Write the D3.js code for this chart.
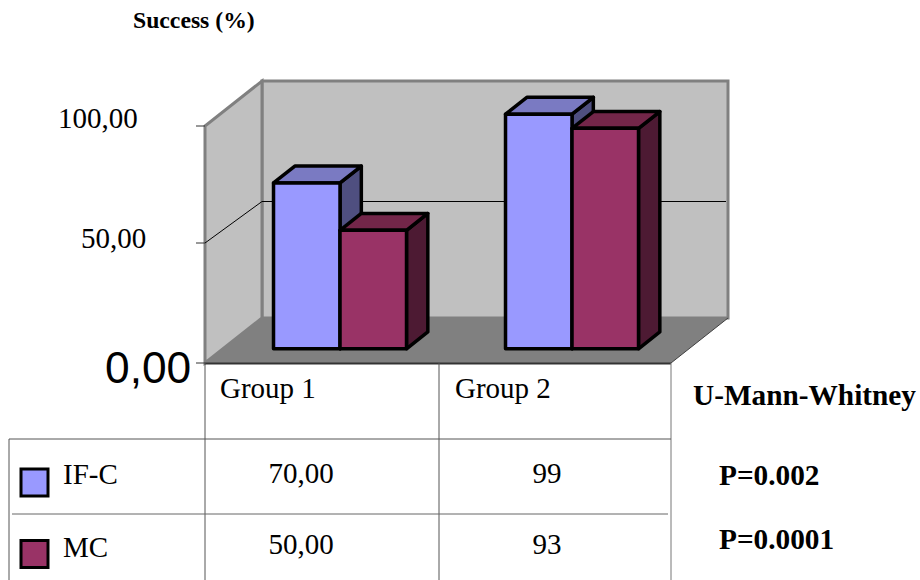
<!DOCTYPE html>
<html>
<head>
<meta charset="utf-8">
<script src="https://cdn.jsdelivr.net/npm/d3@7"></script>
<style>
  html, body { margin: 0; padding: 0; background: #fff; }
  svg { display: block; }
  text { font-family: "Liberation Serif", serif; fill: #000; }
</style>
</head>
<body>
<svg id="chart" width="920" height="580"></svg>
<script>
// Chart values
const groups = ["Group 1", "Group 2"];
const seriesNames = ["IF-C", "MC"];
const ifcValues = [70, 99];
const mcValues = [50, 93];
const ifcCells = ["70,00", "99"];
const mcCells = ["50,00", "93"];
const axisTicks = [0, 50, 100];
const axisLabels = ["0,00", "50,00", "100,00"];
const testTitle = "U-Mann-Whitney";
const testResults = ["P=0.002", "P=0.0001"];

const frontColors = ["#9999ff", "#993366"];
const topColors = ["#7a7ac2", "#732649"];
const sideColors = ["#4f4f80", "#4d1a33"];

const svg = d3.select("#chart");

// Oblique projection: d runs from the front of the floor (0) to the back wall (1)
const x = d3.scaleBand().domain(groups).range([206, 670]);
const y = d3.scaleLinear().domain([0, 100]).range([363, 126]);
const depthX = 57, depthY = 45;
const project = (px, v, d) => [px + d * depthX, y(v) - d * depthY];
const line = d3.line();
const poly = pts => line(pts) + "Z";

const xLeft = 205, xRight = 671, vMax = y.domain()[1];

// Floor
svg.append("path")
  .attr("d", poly([project(xLeft, 0, 0), project(xRight, 0, 0), project(xRight, 0, 1), project(xLeft, 0, 1)]))
  .attr("fill", "#808080");

// Walls
const wallStyle = sel => sel.attr("fill", "#c0c0c0").attr("stroke", "#808080").attr("stroke-width", 3);
svg.append("path")
  .attr("d", poly([project(xLeft, 0, 1), project(xRight, 0, 1), project(xRight, vMax, 1), project(xLeft, vMax, 1)]))
  .call(wallStyle);
svg.append("path")
  .attr("d", poly([project(xLeft, 0, 0), project(xLeft, 0, 1), project(xLeft, vMax, 1), project(xLeft, vMax, 0)]))
  .call(wallStyle);

// Gridlines run across the side wall and the back wall, flatter than the wall
// edges by a small slack and snapped to a whole pixel row on the back wall.
const gridTicks = axisTicks.filter(t => t > 0 && t < vMax);
const gridSlack = 1.5;
svg.selectAll("path.grid").data(gridTicks).join("path")
  .attr("class", "grid")
  .attr("d", t => {
    const a = project(xLeft, t, 0), b = project(xLeft, t, 1), c = project(xRight, t, 1);
    return line([[a[0], a[1] - gridSlack], [b[0], b[1] + gridSlack + 0.5], [c[0] - 2, c[1] + gridSlack + 0.5]]);
  })
  .attr("fill", "none").attr("stroke", "#000").attr("stroke-width", 1);

// Floor edge on the right
svg.append("path")
  .attr("d", line([project(xRight, 0, 0), project(xRight, 0, 1)]))
  .attr("fill", "none").attr("stroke", "#404040").attr("stroke-width", 1);

// Axis ticks
svg.selectAll("line.tick").data(axisTicks).join("line")
  .attr("class", "tick")
  .attr("x1", xLeft - 9).attr("x2", xLeft)
  .attr("y1", d => d === 50 ? y(d) - gridSlack : y(d)).attr("y2", d => d === 50 ? y(d) - gridSlack : y(d))
  .attr("stroke", "#333").attr("stroke-width", 1);

// Bars: two side by side in the middle of each group
const barWidth = 66.5;
const barFront = 0.316, barBack = 0.69;
const barRows = groups.flatMap((g, i) => [
  { g, s: seriesNames[0], v: ifcValues[i], k: 0 },
  { g, s: seriesNames[1], v: mcValues[i], k: 1 }
]);
const barLeft = d => x(d.g) + x.bandwidth() / 2 + (d.k - 1) * barWidth;

const bars = svg.selectAll("g.bar").data(barRows).join("g").attr("class", "bar")
  .attr("stroke", "#000").attr("stroke-width", 3.5).attr("stroke-linejoin", "round");

bars.append("path") // side face
  .attr("d", d => {
    const r = barLeft(d) + barWidth;
    return poly([project(r, 0, barFront), project(r, 0, barBack), project(r, d.v, barBack), project(r, d.v, barFront)]);
  })
  .attr("fill", d => sideColors[d.k]);
bars.append("path") // top face
  .attr("d", d => {
    const l = barLeft(d), r = l + barWidth;
    return poly([project(l, d.v, barFront), project(r, d.v, barFront), project(r, d.v, barBack), project(l, d.v, barBack)]);
  })
  .attr("fill", d => topColors[d.k]);
bars.append("path") // front face
  .attr("d", d => {
    const l = barLeft(d), r = l + barWidth;
    return poly([project(l, 0, barFront), project(r, 0, barFront), project(r, d.v, barFront), project(l, d.v, barFront)]);
  })
  .attr("fill", d => frontColors[d.k]);

// Data table below the floor
const rowTop = 439, rowMid = 514, tableBottom = 580, colMid = 439;
const tableLines = [
  [xLeft, 363.5, xRight, 363.5, "#333", 2],
  [xLeft, 363, xLeft, tableBottom, "#555", 1],
  [colMid, 363, colMid, tableBottom, "#555", 1],
  [xRight, 363, xRight, tableBottom, "#777", 1],
  [9, rowTop, xRight, rowTop, "#555", 1],
  [12, rowMid, 668, rowMid, "#666", 1],
  [9, rowTop, 9, tableBottom, "#555", 1]
];
svg.selectAll("line.table").data(tableLines).join("line")
  .attr("class", "table")
  .attr("x1", d => d[0]).attr("y1", d => d[1]).attr("x2", d => d[2]).attr("y2", d => d[3])
  .attr("stroke", d => d[4]).attr("stroke-width", d => d[5]);

// Axis labels
svg.append("text").attr("x", 133).attr("y", 28).attr("font-size", 23.7).attr("font-weight", "bold").text("Success (%)");
svg.append("text").attr("x", 58).attr("y", 128).attr("font-size", 29).text(axisLabels[2]);
svg.append("text").attr("x", 81).attr("y", 248).attr("font-size", 29).text(axisLabels[1]);
svg.append("text").attr("x", 105).attr("y", 383).attr("font-size", 44.3)
  .style("font-family", '"Liberation Sans", sans-serif').text(axisLabels[0]);

// Table header and cells
const groupLabelX = [220, 455];
const cellX = [301, 547];
svg.selectAll("text.group").data(groups).join("text").attr("class", "group")
  .attr("x", (d, i) => groupLabelX[i]).attr("y", 398).attr("font-size", 29).text(d => d);
svg.selectAll("text.c1").data(ifcCells).join("text").attr("class", "c1")
  .attr("x", (d, i) => cellX[i]).attr("y", 483).attr("font-size", 29).attr("text-anchor", "middle").text(d => d);
svg.selectAll("text.c2").data(mcCells).join("text").attr("class", "c2")
  .attr("x", (d, i) => cellX[i]).attr("y", 554).attr("font-size", 29).attr("text-anchor", "middle").text(d => d);

// Legend keys inside the table
svg.selectAll("rect.key").data(seriesNames).join("rect").attr("class", "key")
  .attr("x", 21).attr("y", (d, i) => [469, 540.5][i]).attr("width", 27).attr("height", 27)
  .attr("fill", (d, i) => frontColors[i]).attr("stroke", "#000").attr("stroke-width", 3);
svg.selectAll("text.key").data(seriesNames).join("text").attr("class", "key")
  .attr("x", 63).attr("y", (d, i) => [484, 557][i]).attr("font-size", 29).text(d => d);

// Significance notes
svg.append("text").attr("x", 693).attr("y", 405).attr("font-size", 29.3).attr("font-weight", "bold").text(testTitle);
svg.selectAll("text.p").data(testResults).join("text").attr("class", "p")
  .attr("x", 719).attr("y", (d, i) => [484.5, 549][i]).attr("font-size", 29.3).attr("font-weight", "bold").text(d => d);
</script>
</body>
</html>
